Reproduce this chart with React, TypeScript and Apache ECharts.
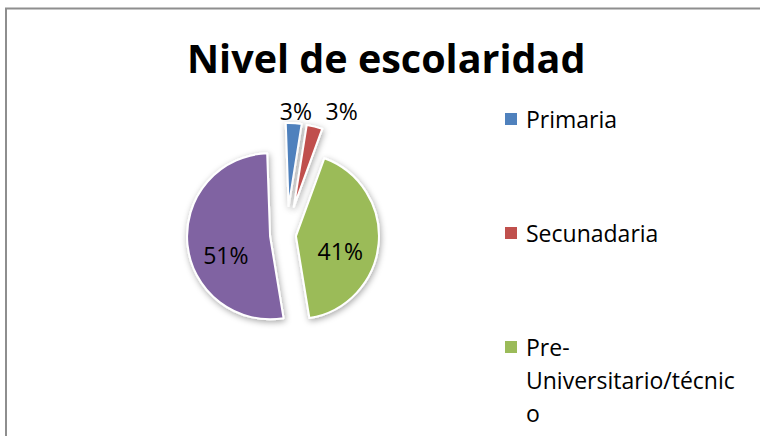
import React, { useEffect, useRef } from "react";
import * as echarts from "echarts";

const TITLE = "Nivel de escolaridad";
const CATEGORIES = ["Primaria", "Secunadaria", "Pre-Universitario/técnico", "Universitario"];
const VALUES = [3, 3, 41, 51];
const COLORS = ["#4F81BD", "#C0504D", "#9BBB59", "#8064A2"];
const LEGEND_TEXT = ["Primaria", "Secunadaria", "\n\nPre-\nUniversitario/técnic\no"];

const FONT = "'Open Sans', 'Noto Sans', sans-serif";
const LH = 33;

// label nudges (style only)
const NUDGE: Record<number, [number, number]> = {
  0: [-19, -12],
  1: [6, -16],
  2: [0, 11],
  3: [0, 14],
};

function makeSeries(visible: number[], offset: number, position: string, center: number[]) {
  return {
    type: "pie",
    center,
    radius: 83,
    startAngle: 92,
    clockwise: true,
    selectedMode: "multiple",
    selectedOffset: offset,
    avoidLabelOverlap: false,
    silent: true,
    itemStyle: {
      borderColor: "#ffffff",
      borderWidth: 2,
      shadowBlur: 6,
      shadowColor: "rgba(0,0,0,0.35)",
      shadowOffsetX: 1,
      shadowOffsetY: 2,
    },
    label: {
      show: true,
      position,
      fontFamily: FONT,
      fontSize: 23,
      color: "#000",
      formatter: (p: any) => p.value + "%",
    },
    labelLine: { show: false, length: 0, length2: 0 },
    labelLayout: (p: any) => {
      const n = NUDGE[p.dataIndex] || [0, 0];
      return { dx: n[0], dy: n[1] };
    },
    emphasis: { disabled: true },
    data: CATEGORIES.map((name, i) => {
      const on = visible.indexOf(i) >= 0;
      return on
        ? { name, value: VALUES[i], selected: true, itemStyle: { color: COLORS[i] } }
        : {
            name,
            value: VALUES[i],
            selected: false,
            itemStyle: { color: "transparent", borderWidth: 0, shadowBlur: 0, shadowColor: "transparent" },
            label: { show: false },
            labelLine: { show: false },
          };
    }),
  };
}

const legendCommon = {
  orient: "vertical",
  left: 505,
  padding: 0,
  icon: "rect",
  itemWidth: 12,
  itemHeight: 12,
  selectedMode: false,
  itemStyle: { borderWidth: 0, shadowBlur: 0, shadowColor: "transparent" },
};

const LEGEND_CENTERS = [119, 233, 347];

export default function App() {
  const ref = useRef<HTMLDivElement>(null);
  useEffect(() => {
    if (!ref.current) return;
    const chart = echarts.init(ref.current, undefined, { renderer: "svg" });
    chart.setOption({
      animation: false,
      backgroundColor: "#ffffff",
      title: {
        text: TITLE,
        left: 187,
        top: 38,
        padding: 0,
        textStyle: { fontFamily: FONT, fontWeight: "bold", fontSize: 39.5, color: "#000" },
      },
      graphic: [
        {
          type: "rect",
          shape: { x: 6, y: 8.5, width: 820, height: 520 },
          style: { fill: "none", stroke: "#8e8e8e", lineWidth: 2 },
          silent: true,
        },
      ],
      legend: [0, 1, 2].map((i) => ({
        ...legendCommon,
        top: LEGEND_CENTERS[i] - (i === 2 ? 2.5 : 0.5) * LH,
        data: [{ name: CATEGORIES[i], itemStyle: { color: COLORS[i], borderWidth: 0 } }],
        formatter: () => LEGEND_TEXT[i],
        textStyle: {
          fontFamily: FONT,
          fontSize: 23,
          color: "#000",
          lineHeight: LH,
          padding: [0, 0, 0, 4],
        },
      })),
      series: [
        makeSeries([2, 3], 13, "inside", [283, 235]),
        makeSeries([0, 1], 27, "outside", [287, 233]),
      ],
    });
    return () => chart.dispose();
  }, []);
  return (
    <div
      ref={ref}
      style={{ position: "fixed", left: 0, top: 0, width: 760, height: 436, background: "#fff" }}
    />
  );
}
